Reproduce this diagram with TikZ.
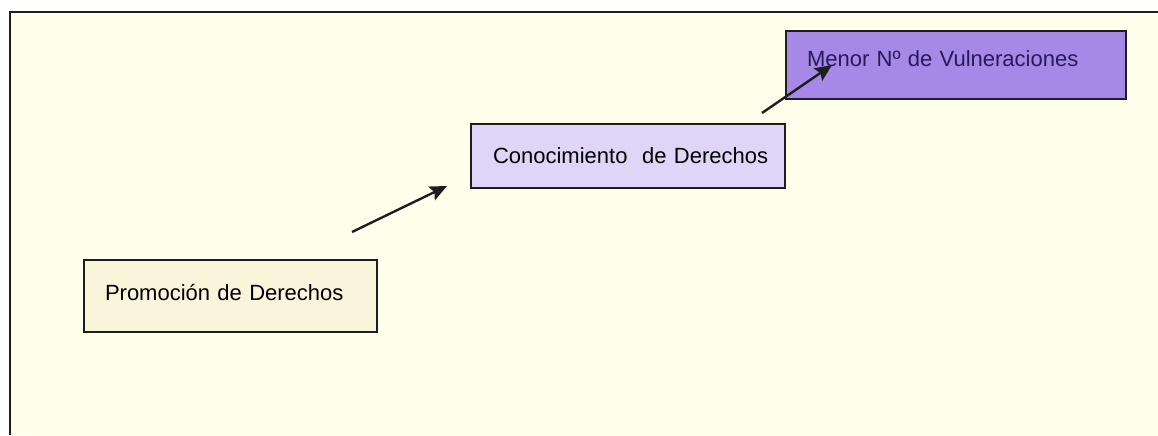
\documentclass[tikz,border=0pt]{standalone}
\usepackage{fontspec}
\setmainfont{Liberation Sans}
\usepackage{tikz}
\usetikzlibrary{arrows.meta,positioning,calc}
\definecolor{bgcream}{RGB}{254,254,234}
\definecolor{boxcream}{RGB}{249,245,218}
\definecolor{boxlav}{RGB}{223,214,247}
\definecolor{boxviolet}{RGB}{166,136,230}
\definecolor{txtviolet}{RGB}{40,24,92}
\definecolor{linedark}{RGB}{30,30,30}
\tikzset{
  ybox/.style={draw=linedark, fill=boxcream, line width=1pt, anchor=north west,
               inner xsep=10.5pt, align=left, font=\fontsize{11pt}{13pt}\selectfont},
  lbox/.style={ybox, fill=boxlav, inner xsep=11pt},
  vbox/.style={ybox, fill=boxviolet, text=txtviolet},
  flow/.style={-{Stealth[length=8.5pt, width=7.5pt, inset=1.5pt]}, line width=1.2pt, draw=linedark},
}

\begin{document}
\begin{tikzpicture}[x=0.5pt, y=-0.5pt]
    \useasboundingbox (0,0) rectangle (1158,435);
    % marco
    \fill[bgcream] (10,12) rectangle (1158,435);
    \draw[linedark, line width=1pt] (10,435) -- (10,12) -- (1158,12);
    % cajas
    \node[ybox, text width=125.5pt, minimum height=36pt, text depth=4pt] (prom) at (83,259) {Promoción de Derechos};
    \node[lbox, text width=135pt, minimum height=32pt] (cono) at (470,123) {\mbox{Conocimiento~ de Derechos}};
    \node[vbox, text width=149pt, minimum height=34pt, text depth=6pt] (menor) at (785,30) {Menor Nº de Vulneraciones};
    % flechas
    \coordinate (f1a) at ($(prom.north east)+(-26,-27)$);
    \coordinate (f1b) at ($(cono.south west)+(-23,-3)$);
    \coordinate (f2a) at ($(cono.north east)+(-24,-10)$);
    \coordinate (f2b) at ($(menor.south west)+(47,-35)$);
    \draw[flow] (f1a)--(f1b);\draw[flow] (f2a)--(f2b);
\end{tikzpicture}
\end{document}
